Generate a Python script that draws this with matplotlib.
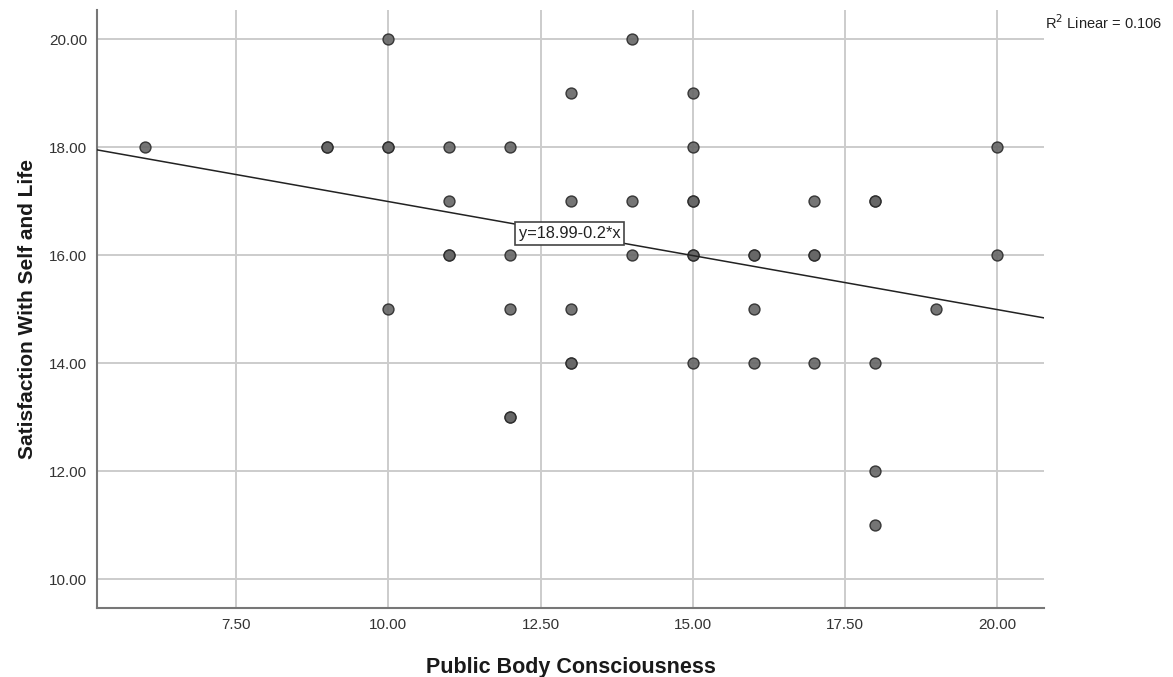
import matplotlib.pyplot as plt
import numpy as np

plt.rcParams['font.family'] = ['Liberation Sans', 'DejaVu Sans']

# public body consciousness (x) and satisfaction with self and life (y)
# repeated pairs show up darker in the original (overlapping cases)
pbc = [6, 9, 9, 10, 10, 10, 10, 11, 11, 11, 11, 12, 12, 12, 12, 12,
       13, 13, 13, 13, 13, 14, 14, 14, 15, 15, 15, 15, 15, 15, 15,
       16, 16, 16, 16, 17, 17, 17, 17, 18, 18, 18, 18, 18, 19, 20, 20]
sat = [18, 18, 18, 20, 18, 18, 15, 18, 17, 16, 16, 18, 16, 15, 13, 13,
       19, 17, 15, 14, 14, 20, 17, 16, 19, 18, 17, 17, 16, 16, 14,
       16, 16, 15, 14, 17, 16, 16, 14, 17, 17, 14, 12, 11, 15, 18, 16]

intercept = 18.99
slope = -0.2
r2 = 0.106

xticks = [7.5, 10, 12.5, 15, 17.5, 20]
yticks = [10, 12, 14, 16, 18, 20]

fig = plt.figure(figsize=(11.73, 6.77), dpi=100)
ax = fig.add_axes([0.0827, 0.1019, 0.8073, 0.8833])

xmin, xmax = 5.214, 20.77
ax.set_xlim(xmin, xmax)
ax.set_ylim(9.463, 20.537)

ax.set_xticks(xticks)
ax.set_yticks(yticks)
ax.set_xticklabels(['%.2f' % t for t in xticks], fontsize=11, color='#333333')
ax.set_yticklabels(['%.2f' % t for t in yticks], fontsize=11, color='#333333')
ax.tick_params(length=0, pad=7)

ax.grid(True, color='#cccccc', linewidth=1.4)
ax.set_axisbelow(True)
for s in ['top', 'right']:
    ax.spines[s].set_visible(False)
for s in ['left', 'bottom']:
    ax.spines[s].set_color('#777777')
    ax.spines[s].set_linewidth(1.5)

ax.scatter(pbc, sat, s=62, facecolor='#666666', edgecolor='#2a2a2a',
           linewidth=1.0, alpha=0.9, zorder=3)

lx = np.array([xmin, xmax])
ax.plot(lx, intercept + slope * lx, color='#222222', linewidth=1.1, zorder=4)

ax.text(12.14, 16.40, 'y=18.99-0.2*x', fontsize=11.8, color='#222222',
        ha='left', va='center', zorder=5,
        bbox=dict(boxstyle='square,pad=0.22', facecolor='white',
                  edgecolor='#444444', linewidth=1.2))

fig.text(0.891, 0.966, 'R$^2$ Linear = %.3f' % r2, fontsize=10.5, color='#222222',
         ha='left', va='center')

ax.set_xlabel('Public Body Consciousness', fontsize=15.5, fontweight='bold',
              color='#1a1a1a', labelpad=18)
ax.set_ylabel('Satisfaction With Self and Life', fontsize=15, fontweight='bold',
              color='#1a1a1a', labelpad=9)

fig.savefig('out.png', dpi=100)
